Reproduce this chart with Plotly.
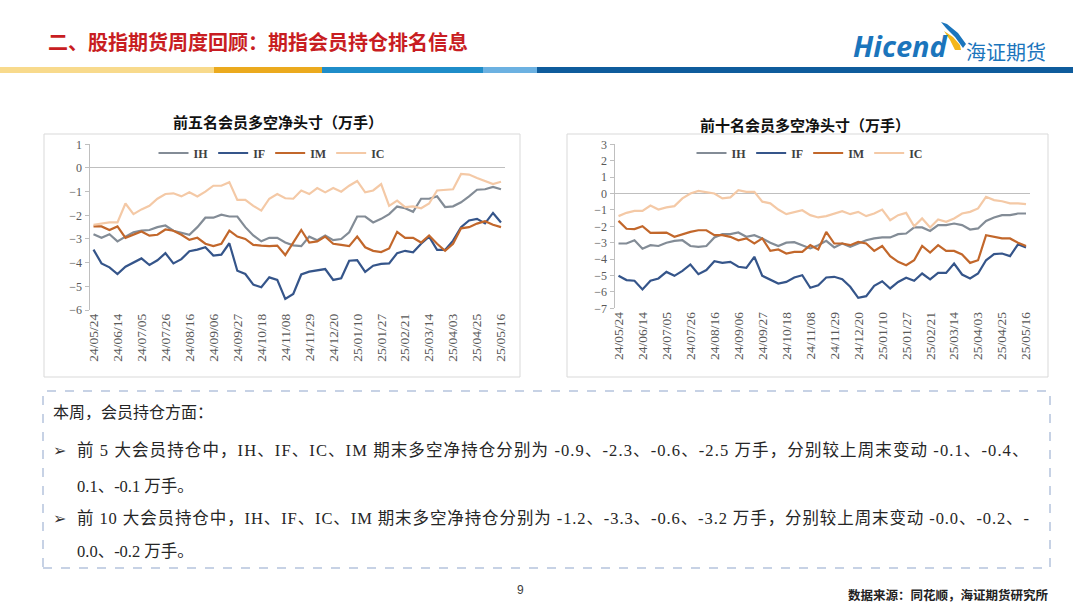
import plotly.graph_objects as go

# ---------------- data ----------------
dates = ["24/05/24","24/05/31","24/06/07","24/06/14","24/06/21","24/06/28","24/07/05","24/07/12",
         "24/07/19","24/07/26","24/08/02","24/08/09","24/08/16","24/08/23","24/08/30","24/09/06",
         "24/09/13","24/09/20","24/09/27","24/09/30","24/10/11","24/10/18","24/10/25","24/11/01",
         "24/11/08","24/11/15","24/11/22","24/11/29","24/12/06","24/12/13","24/12/20","24/12/27",
         "25/01/03","25/01/10","25/01/17","25/01/24","25/01/27","25/02/07","25/02/14","25/02/21",
         "25/02/28","25/03/07","25/03/14","25/03/21","25/03/28","25/04/03","25/04/11","25/04/18",
         "25/04/25","25/04/30","25/05/09","25/05/16"]
tick_dates = dates[::3]

# top 5 members net position (10k lots)
ih5 = [-2.8,-2.95,-2.8,-3.1,-2.9,-2.72,-2.65,-2.62,-2.5,-2.43,-2.65,-2.72,-2.82,-2.5,-2.1,-2.1,
       -1.97,-2.05,-2.05,-2.5,-2.85,-3.1,-2.95,-2.95,-3.15,-3.27,-3.3,-2.9,-3.05,-2.85,-3.05,-3.0,
       -2.72,-2.05,-2.05,-2.3,-2.15,-1.95,-1.63,-1.7,-1.85,-1.3,-1.3,-1.2,-1.65,-1.62,-1.45,-1.2,
       -0.92,-0.9,-0.8,-0.9]
if5 = [-3.45,-4.03,-4.2,-4.48,-4.17,-4.0,-3.82,-4.1,-3.9,-3.6,-4.03,-3.85,-3.52,-3.45,-3.35,-3.7,
       -3.66,-3.18,-4.34,-4.48,-4.93,-5.04,-4.62,-4.73,-5.53,-5.32,-4.5,-4.38,-4.31,-4.27,-4.73,-4.66,
       -3.92,-3.89,-4.39,-4.13,-4.05,-4.03,-3.6,-3.5,-3.56,-3.2,-2.9,-3.46,-3.46,-3.07,-2.5,-2.22,
       -2.15,-2.34,-1.9,-2.3]
im5 = [-2.47,-2.47,-2.62,-2.47,-2.95,-2.82,-2.68,-2.86,-2.82,-2.6,-2.65,-2.82,-3.04,-2.95,-3.2,-3.3,
       -3.2,-2.65,-2.9,-3.0,-3.25,-3.28,-3.3,-3.28,-3.68,-3.15,-2.62,-3.15,-3.1,-2.9,-3.2,-3.25,
       -3.3,-2.9,-3.35,-3.5,-3.55,-3.4,-2.7,-2.95,-2.95,-3.15,-2.85,-3.2,-3.5,-3.2,-2.55,-2.5,
       -2.35,-2.25,-2.4,-2.5]
ic5 = [-2.4,-2.35,-2.3,-2.3,-1.5,-1.95,-1.75,-1.6,-1.3,-1.1,-1.07,-1.2,-1.03,-1.2,-1.0,-0.75,
       -0.75,-0.6,-1.35,-1.35,-1.6,-1.8,-1.3,-1.1,-1.28,-1.3,-0.95,-1.1,-0.85,-1.03,-0.85,-1.0,
       -0.75,-0.55,-1.03,-0.95,-0.68,-1.6,-1.38,-1.65,-1.62,-1.7,-1.5,-0.95,-0.93,-0.9,-0.25,-0.28,
       -0.42,-0.56,-0.68,-0.58]

# top 10 members net position (10k lots)
ih10 = [-3.05,-3.05,-2.85,-3.37,-3.15,-3.2,-3.0,-2.89,-2.85,-3.2,-3.25,-3.2,-2.68,-2.48,-2.48,-2.38,
        -2.64,-2.54,-2.74,-3.0,-3.2,-3.0,-2.97,-3.15,-3.35,-3.15,-2.89,-3.29,-3.05,-3.25,-3.05,-2.85,
        -2.74,-2.68,-2.68,-2.48,-2.44,-2.07,-2.07,-2.28,-1.93,-1.93,-1.83,-1.93,-2.2,-2.13,-1.67,-1.46,
        -1.32,-1.32,-1.22,-1.22]
if10 = [-5.02,-5.28,-5.32,-5.85,-5.32,-5.18,-4.78,-5.02,-4.72,-4.33,-4.92,-4.67,-4.13,-4.23,-4.17,-4.47,
        -4.53,-3.86,-5.02,-5.28,-5.49,-5.39,-5.12,-4.98,-5.75,-5.59,-5.12,-5.08,-5.22,-5.69,-6.36,-6.26,
        -5.63,-5.35,-5.79,-5.39,-5.14,-5.32,-4.88,-5.24,-4.84,-4.84,-4.27,-4.94,-5.18,-4.88,-4.07,-3.7,
        -3.66,-3.82,-3.1,-3.29]
im10 = [-1.67,-2.15,-2.17,-1.99,-2.4,-2.38,-2.38,-2.64,-2.48,-2.34,-2.24,-2.24,-2.54,-2.54,-2.64,-2.85,
        -2.74,-3.05,-2.74,-3.5,-3.41,-3.66,-3.56,-3.56,-3.15,-3.41,-2.34,-3.05,-3.05,-3.15,-2.95,-3.05,
        -3.5,-3.2,-3.82,-4.17,-4.37,-4.07,-3.2,-3.6,-3.15,-3.5,-3.5,-3.72,-4.23,-4.07,-2.54,-2.64,
        -2.74,-2.74,-3.0,-3.2]
ic10 = [-1.38,-1.18,-1.06,-1.06,-0.73,-0.98,-0.85,-0.77,-0.3,0.0,0.16,0.1,0.0,-0.3,-0.24,0.2,
        0.1,0.1,-0.5,-0.6,-0.98,-1.26,-1.12,-1.02,-1.32,-1.46,-1.38,-1.22,-1.08,-1.26,-1.12,-1.38,
        -1.22,-0.98,-1.63,-1.32,-1.18,-2.0,-1.52,-2.07,-1.58,-1.73,-1.52,-1.22,-1.12,-0.91,-0.2,-0.4,
        -0.47,-0.6,-0.6,-0.65]

series_names = ["IH", "IF", "IM", "IC"]
series_colors = ["#838C96", "#35558A", "#C2672B", "#F4C9A6"]
left_title = "前五名会员多空净头寸（万手）"
right_title = "前十名会员多空净头寸（万手）"
page_title = "二、股指期货周度回顾：期指会员持仓排名信息"
intro = "本周，会员持仓方面："
line_a1 = "前 5 大会员持仓中，IH、IF、IC、IM 期末多空净持仓分别为 -0.9、-2.3、-0.6、-2.5 万手，分别较上周末变动 -0.1、-0.4、"
line_a2 = "0.1、-0.1 万手。"
line_b1 = "前 10 大会员持仓中，IH、IF、IC、IM 期末多空净持仓分别为 -1.2、-3.3、-0.6、-3.2 万手，分别较上周末变动 -0.0、-0.2、-"
line_b2 = "0.0、-0.2 万手。"
source = "数据来源：同花顺，海证期货研究所"
page_no = "9"

# ---------------- helpers ----------------
W, H = 1080, 608
def px(x):
    return x / W
def py(y):
    return 1 - y / H

CJK = "'Noto Sans CJK SC', sans-serif"
TXT = "Liberation Serif, 'Noto Sans CJK SC', serif"

fig = go.Figure()

for vals, nm, col in zip([ih5, if5, im5, ic5], series_names, series_colors):
    fig.add_trace(go.Scatter(x=dates, y=vals, name=nm, mode="lines",
                             line=dict(color=col, width=2.2), xaxis="x", yaxis="y",
                             legend="legend", hoverinfo="skip"))
for vals, nm, col in zip([ih10, if10, im10, ic10], series_names, series_colors):
    fig.add_trace(go.Scatter(x=dates, y=vals, name=nm, mode="lines",
                             line=dict(color=col, width=2.2), xaxis="x2", yaxis="y2",
                             legend="legend2", hoverinfo="skip"))

ytickfont = dict(family="Liberation Serif, serif", size=12, color="#595959")
xtickfont = dict(family="Liberation Serif, serif", size=13.5, color="#595959")
axis_line = "#BFBFBF"

def yax(domain, rng, anchor, side="left", overlaying=None):
    d = dict(domain=domain, range=rng, dtick=1, tick0=0, showgrid=False,
             zeroline=(overlaying is None), zerolinecolor=axis_line, zerolinewidth=1,
             showline=True, linecolor=axis_line, linewidth=1, ticks="outside",
             ticklen=4, tickcolor=axis_line, tickfont=ytickfont, anchor=anchor, side=side,
             fixedrange=True, automargin=False)
    if overlaying:
        d["overlaying"] = overlaying
    return d

def xax(domain, anchor):
    return dict(domain=domain, type="category", range=[-0.5, len(dates) - 0.5],
                tickmode="array", tickvals=tick_dates, ticktext=tick_dates, tickangle=-90,
                tickfont=xtickfont, showgrid=False, zeroline=False, showline=False,
                ticks="", anchor=anchor, fixedrange=True, automargin=False)

ydom1 = [py(310), py(144.3)]
ydom2 = [py(308.3), py(144.3)]
legfont = dict(family="Liberation Serif, serif", size=12, color="#404040", weight="bold")
fig.update_layout(
    width=W, height=H, autosize=False,
    margin=dict(l=0, r=0, t=0, b=0, pad=0, autoexpand=False),
    paper_bgcolor="white", plot_bgcolor="rgba(0,0,0,0)",
    xaxis=xax([px(89.5), px(505)], "y"),
    yaxis=yax(ydom1, [-6, 1], "x"),
    yaxis3=yax(ydom1, [-6, 1], "x", side="right", overlaying="y"),
    xaxis2=xax([px(614.5), px(1030)], "y2"),
    yaxis2=yax(ydom2, [-7, 3], "x2"),
    yaxis4=yax(ydom2, [-7, 3], "x2", side="right", overlaying="y2"),
    legend=dict(orientation="h", x=px(272), xanchor="center", y=py(153), yanchor="middle",
                font=legfont, bgcolor="rgba(0,0,0,0)", itemwidth=30, tracegroupgap=0),
    legend2=dict(orientation="h", x=px(810), xanchor="center", y=py(153), yanchor="middle",
                 font=legfont, bgcolor="rgba(0,0,0,0)", itemwidth=30, tracegroupgap=0),
    showlegend=True,
)

shapes = []
# header bar
for x0, x1, c in [(0, 214, "#F8DA8C"), (214, 322, "#EBAA1E"), (322, 483, "#1F8DC9"),
                  (483, 537, "#6CB1E1"), (537, 1073, "#0F5C9C")]:
    shapes.append(dict(type="rect", xref="paper", yref="paper", x0=px(x0), x1=px(x1),
                       y0=py(73), y1=py(67), line=dict(width=0), fillcolor=c, layer="above"))
# mask for clipped right axis labels of left chart
shapes.append(dict(type="rect", xref="paper", yref="paper", x0=px(520.5), x1=px(566.5),
                   y0=py(378), y1=py(133), line=dict(width=0), fillcolor="white", layer="above"))
# chart frames
for x0, x1 in [(44, 520), (567, 1048)]:
    shapes.append(dict(type="rect", xref="paper", yref="paper", x0=px(x0), x1=px(x1),
                       y0=py(377), y1=py(134), line=dict(color="#D9D9D9", width=1),
                       fillcolor="rgba(0,0,0,0)", layer="above"))
# text box
shapes.append(dict(type="rect", xref="paper", yref="paper", x0=px(43), x1=px(1050),
                   y0=py(568), y1=py(391), line=dict(color="#8FA5CB", width=1, dash="dash"),
                   fillcolor="rgba(0,0,0,0)", layer="above"))
# logo swoosh
def path(pts):
    return "M " + " L ".join(f"{px(a)},{py(b)}" for a, b in pts) + " Z"
shapes.append(dict(type="path", xref="paper", yref="paper",
                   path=path([(944, 31), (953, 37), (960, 45), (961, 50), (955, 50), (950, 40)]),
                   line=dict(width=0), fillcolor="#F4B61A", layer="above"))
shapes.append(dict(type="path", xref="paper", yref="paper",
                   path=path([(941, 22), (947, 24), (958, 33), (966, 44), (963, 48), (955, 37), (946, 28)]),
                   line=dict(width=0), fillcolor="#1B75BC", layer="above"))
fig.update_layout(shapes=shapes)

ann = []
def text(x, y, s, size, color="#262626", family=TXT, xanchor="left", weight="normal"):
    ann.append(dict(xref="paper", yref="paper", x=px(x), y=py(y), text=s, showarrow=False,
                    xanchor=xanchor, yanchor="middle",
                    font=dict(family=family, size=size, color=color, weight=weight)))

def spaced(s, ls):
    return f'<span style="letter-spacing:{ls}px">{s}</span>'

text(46, 41, page_title, 20, color="#C81D22", family=CJK, weight="bold")
text(851, 45, "<i>Hicend</i>", 29, color="#1B75BC", family="'Open Sans', 'Liberation Sans', sans-serif", weight="bold")
text(964, 52, "海证期货", 20, color="#1B75BC", family=CJK)
text(278, 121, left_title, 15, color="#111111", family=CJK, xanchor="center", weight="bold")
text(805, 124, right_title, 15, color="#111111", family=CJK, xanchor="center", weight="bold")
text(51, 412, intro, 16, family=TXT)
text(51, 450, "➢", 16, color="#333333", family="DejaVu Sans, sans-serif")
text(75, 450, spaced(line_a1, 1.1), 16.5, family=TXT)
text(75, 486, line_a2, 16.5, family=TXT)
text(51, 518, "➢", 16, color="#333333", family="DejaVu Sans, sans-serif")
text(75, 518, spaced(line_b1, 0.9), 16.5, family=TXT)
text(75, 551, line_b2, 16.5, family=TXT)
text(520, 590, page_no, 12, color="#404040", family="'Liberation Sans', sans-serif", xanchor="center")
text(1051, 594, source, 12.5, color="#222222", family=CJK, xanchor="right", weight="bold")
fig.update_layout(annotations=ann)

fig.write_html("out.html", config={"displayModeBar": False, "staticPlot": True},
               post_script="document.body.style.margin='0';document.body.style.overflow='hidden';")
